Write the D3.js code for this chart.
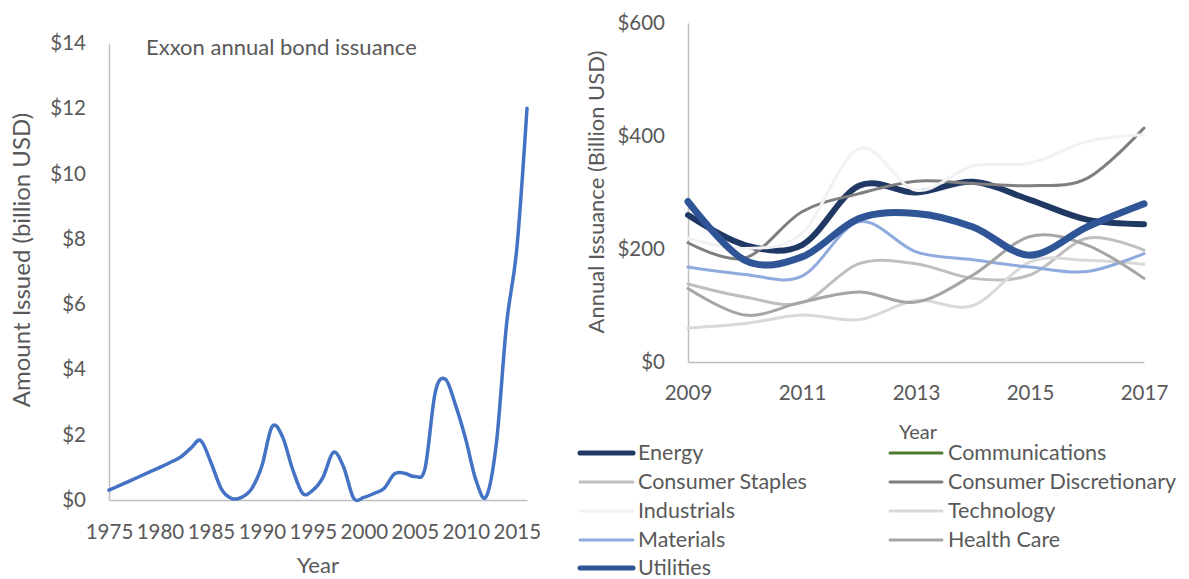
<!DOCTYPE html>
<html><head><meta charset="utf-8">
<script src="https://cdn.jsdelivr.net/npm/d3@7"></script>
<style>
body{margin:0;background:#fff}
svg{display:block}
text{font-family:Lato, "Open Sans", sans-serif; fill:#595959}
</style></head>
<body><svg id="chart" width="1189" height="579"></svg>
<script>
// ---------- Left chart data ----------
const exxonYears = [1975,1976,1977,1978,1979,1980,1981,1982,1983,1984,1985,1986,1987,1988,1989,1990,1991,1992,1993,1994,1995,1996,1997,1998,1999,2000,2001,2002,2003,2004,2005,2006,2007,2008,2009,2010,2011,2012,2013,2014,2015,2016];
const exxonIssued = [0.30,0.44,0.58,0.72,0.86,1.00,1.15,1.31,1.58,1.82,1.15,0.35,0.05,0.08,0.35,1.05,2.25,1.95,0.95,0.20,0.30,0.70,1.46,1.02,0.05,0.08,0.20,0.36,0.80,0.82,0.72,0.97,3.30,3.70,2.90,1.85,0.60,0.10,1.75,5.40,7.70,12.00];
const exxonTickYears = [1975,1980,1985,1990,1995,2000,2005,2010,2015];
const exxonTickValues = [0,2,4,6,8,10,12,14];

// ---------- Right chart data ----------
const sectorYears = [2009,2010,2011,2012,2013,2014,2015,2016,2017];
const sectorTickYears = [2009,2011,2013,2015,2017];
const sectorTickValues = [0,200,400,600];
const energy        = [260,207,207,312,300,319,287,252,244];
const communications= [null,null,null,null,null,null,null,null,null];
const consumerStaples = [138,115,105,174,174,148,154,219,198];
const consumerDiscretionary = [211,184,266,298,320,316,312,325,414];
const industrials   = [219,201,228,378,304,347,352,390,402];
const technology    = [60,68,83,75,109,100,177,180,173];
const materials     = [168,155,152,248,195,181,168,160,192];
const healthCare    = [130,83,106,124,106,154,222,207,148];
const utilities     = [284,180,186,254,263,239,189,239,280];

const sectorNames = ["Energy","Communications","Consumer Staples","Consumer Discretionary","Industrials","Technology","Materials","Health Care","Utilities"];
const sectorValues = [energy,communications,consumerStaples,consumerDiscretionary,industrials,technology,materials,healthCare,utilities];
const sectorColors = ["#203864","#4e7a2e","#bfbfbf","#7f7f7f","#f2f2f2","#d9d9d9","#8faadc","#a5a5a5","#2f5597"];
const sectorWidths = [6,3,3,3,3,3,3,3,7];
const legendWidths = [5,3,3,3,3,3,3,3,5];

const svg = d3.select("#chart");
const axisColor = "#bfbfbf";
const tickFont = 20.5;

function styleAxis(g){
  g.select(".domain").attr("stroke", axisColor).attr("stroke-width", 1.5);
  g.selectAll(".tick line").remove();
  g.selectAll(".tick text").attr("font-size", tickFont).attr("fill", "#595959").style("font-family","Lato");
}

// ---------- Left chart ----------
const xL = d3.scaleLinear().domain([1975, 2016]).range([109, 527]);
const yL = d3.scaleLinear().domain([0, 14]).range([500, 43]);

svg.append("g").attr("transform","translate(0,500)")
  .call(d3.axisBottom(xL).tickValues(exxonTickYears).tickFormat(d3.format("d")).tickSize(0).tickPadding(24.5).tickSizeOuter(0))
  .call(styleAxis);
svg.append("g").attr("transform","translate(109,0)")
  .call(d3.axisLeft(yL).tickValues(exxonTickValues).tickFormat(d => "$" + d).tickSize(0).tickPadding(23).tickSizeOuter(0))
  .call(styleAxis);

const lineL = d3.line()
  .x((d,i) => xL(exxonYears[i]))
  .y(d => yL(d))
  .curve(d3.curveCatmullRom.alpha(0));
svg.append("path").datum(exxonIssued)
  .attr("d", lineL).attr("fill","none").attr("stroke","#4472c4")
  .attr("stroke-width",3.5).attr("stroke-linejoin","round").attr("stroke-linecap","round");

svg.append("text").attr("x",146).attr("y",55).attr("font-size",22).text("Exxon annual bond issuance");
svg.append("text").attr("transform","translate(30,260) rotate(-90)").attr("text-anchor","middle")
  .attr("font-size",24).text("Amount Issued (billion USD)");
svg.append("text").attr("x",318).attr("y",573).attr("text-anchor","middle").attr("font-size",22).text("Year");

// ---------- Right chart ----------
const xR = d3.scaleLinear().domain([2009, 2017]).range([688, 1144]);
const yR = d3.scaleLinear().domain([0, 600]).range([362, 23]);

svg.append("g").attr("transform","translate(0,362)")
  .call(d3.axisBottom(xR).tickValues(sectorTickYears).tickFormat(d3.format("d")).tickSize(0).tickPadding(23.5).tickSizeOuter(0))
  .call(styleAxis);
svg.append("g").attr("transform","translate(688,0)")
  .call(d3.axisLeft(yR).tickValues(sectorTickValues).tickFormat(d => "$" + d).tickSize(0).tickPadding(23).tickSizeOuter(0))
  .call(styleAxis);

const lineR = d3.line()
  .defined(d => d != null)
  .x((d,i) => xR(sectorYears[i]))
  .y(d => yR(d))
  .curve(d3.curveCatmullRom.alpha(0));

sectorValues.forEach((vals, k) => {
  svg.append("path").datum(vals)
    .attr("d", lineR).attr("fill","none").attr("stroke", sectorColors[k])
    .attr("stroke-width", sectorWidths[k]).attr("stroke-linejoin","round").attr("stroke-linecap","round");
});

svg.append("text").attr("transform","translate(604,192) rotate(-90)").attr("text-anchor","middle")
  .attr("font-size",22).text("Annual Issuance (Billion USD)");
svg.append("text").attr("x",918).attr("y",439).attr("text-anchor","middle").attr("font-size",20).text("Year");

// ---------- Legend ----------
const rowY = [453, 482, 511, 540, 568];
const colLine = [[580,633],[890,942]];
const colText = [638, 948];
sectorNames.forEach((name, k) => {
  const col = k % 2, row = Math.floor(k / 2);
  const g = svg.append("g");
  g.append("line").attr("x1", colLine[col][0]).attr("x2", colLine[col][1])
    .attr("y1", rowY[row]).attr("y2", rowY[row])
    .attr("stroke", sectorColors[k]).attr("stroke-width", legendWidths[k]).attr("stroke-linecap","round");
  g.append("text").attr("x", colText[col]).attr("y", rowY[row] + 7).attr("font-size", 21.5).text(name);
});
</script>
</body></html>
